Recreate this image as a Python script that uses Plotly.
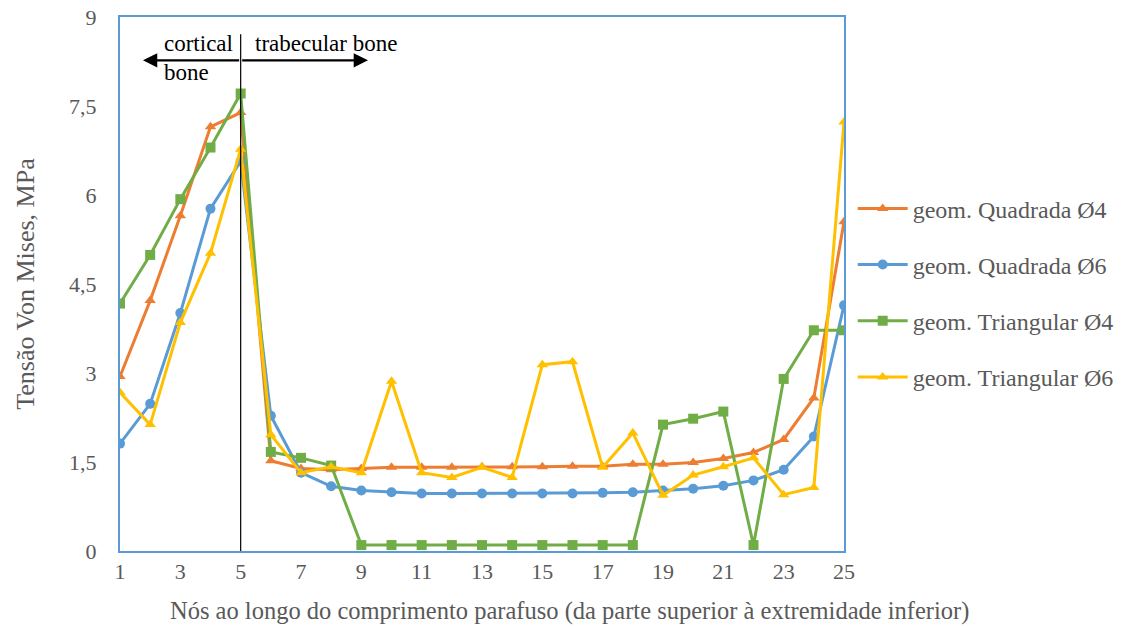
import plotly.graph_objects as go

nodes = list(range(1, 26))

quad4 = [2.94, 4.22, 5.65, 7.15, 7.39, 1.52, 1.39, 1.37, 1.39, 1.41, 1.41, 1.41, 1.42,
         1.42, 1.42, 1.43, 1.43, 1.46, 1.46, 1.49, 1.56, 1.66, 1.88, 2.58, 5.55]
quad6 = [1.81, 2.48, 4.01, 5.77, 6.57, 2.28, 1.32, 1.09, 1.02, 0.99, 0.97, 0.97, 0.97,
         0.97, 0.97, 0.97, 0.98, 0.99, 1.02, 1.05, 1.10, 1.19, 1.37, 1.93, 4.14]
tri4 = [4.17, 4.99, 5.93, 6.80, 7.71, 1.67, 1.57, 1.44, 0.10, 0.10, 0.10, 0.10, 0.10,
        0.10, 0.10, 0.10, 0.10, 0.10, 2.13, 2.23, 2.35, 0.10, 2.90, 3.72, 3.72]
tri6 = [2.67, 2.13, 3.85, 5.02, 6.77, 1.96, 1.32, 1.42, 1.32, 2.86, 1.32, 1.24, 1.41,
        1.24, 3.14, 3.19, 1.41, 1.99, 0.94, 1.28, 1.42, 1.57, 0.95, 1.07, 7.23]

y_ticks = [0, 1.5, 3, 4.5, 6, 7.5, 9]
y_ticktext = ["0", "1,5", "3", "4,5", "6", "7,5", "9"]
x_ticks = list(range(1, 26, 2))

series = [
    ("geom. Quadrada Ø4", quad4, "#ED7D31", "triangle-up"),
    ("geom. Quadrada Ø6", quad6, "#5B9BD5", "circle"),
    ("geom. Triangular Ø4", tri4, "#70AD47", "square"),
    ("geom. Triangular Ø6", tri6, "#FFC000", "triangle-up"),
]

FONT = "Times New Roman, Liberation Serif, DejaVu Serif, serif"
GRAY = "#595959"
X_TITLE = "Nós ao longo do comprimento parafuso (da parte superior à extremidade inferior)"

fig = go.Figure()
for i, (name, vals, color, sym) in enumerate(series):
    fig.add_trace(go.Scatter(
        x=nodes, y=vals, name=name, mode="lines+markers",
        line=dict(color=color, width=3),
        marker=dict(symbol=sym, size=10, color=color),
        legendgroup=f"g{i}",
    ))

# vertical divider at node 5
fig.add_shape(type="line", xref="x", yref="y", x0=5, x1=5, y0=-0.03, y1=8.71,
              line=dict(color="black", width=1.2))

# double arrow
for xe in (1.76, 9.22):
    fig.add_annotation(x=xe, y=8.27, ax=5, ay=8.27, xref="x", yref="y",
                       axref="x", ayref="y", text="", showarrow=True,
                       arrowhead=2, arrowsize=1.3, arrowwidth=2.2, arrowcolor="black")

fig.add_annotation(x=2.39, y=8.56, xref="x", yref="y", text="cortical",
                   showarrow=False, xanchor="left", yanchor="middle",
                   font=dict(family=FONT, size=23, color="black"))
fig.add_annotation(x=2.39, y=8.07, xref="x", yref="y", text="bone",
                   showarrow=False, xanchor="left", yanchor="middle",
                   font=dict(family=FONT, size=23, color="black"))
fig.add_annotation(x=5.41, y=8.56, xref="x", yref="y", text="trabecular bone",
                   showarrow=False, xanchor="left", yanchor="middle",
                   font=dict(family=FONT, size=23, color="black"))

# x-axis title (centred on the whole chart, as in the reference)
fig.add_annotation(x=0.6215, y=-0.113, xref="paper", yref="paper", text=X_TITLE,
                   showarrow=False, xanchor="center", yanchor="middle",
                   font=dict(family=FONT, size=24.5, color=GRAY))

fig.update_layout(
    width=1122, height=627,
    margin=dict(l=120, r=278, t=17, b=75.5, autoexpand=False),
    paper_bgcolor="white", plot_bgcolor="white",
    font=dict(family=FONT, size=21, color=GRAY),
    legend=dict(x=1.012, y=0.683, xanchor="left", yanchor="top",
                font=dict(family=FONT, size=24, color=GRAY),
                tracegroupgap=22, traceorder="grouped", itemwidth=50,
                bgcolor="rgba(0,0,0,0)"),
    xaxis=dict(range=[1, 25], tickvals=x_ticks, showgrid=False, zeroline=False,
               showline=True, mirror=True, linecolor="#5B9BD5", linewidth=2,
               ticks="", tickfont=dict(family=FONT, size=22, color=GRAY),
               automargin=False),
    yaxis=dict(range=[0, 9], tickvals=y_ticks, ticktext=y_ticktext, showgrid=False,
               zeroline=False, showline=True, mirror=True, linecolor="#5B9BD5",
               linewidth=2, ticks="", tickfont=dict(family=FONT, size=22, color=GRAY),
               automargin=False, ticklabelstandoff=17, ticklabeloverflow="allow",
               title=dict(text="Tensão Von Mises, MPa",
                          font=dict(family=FONT, size=26, color=GRAY), standoff=27)),
)

fig.write_html("out.html", config={"displayModeBar": False},
               post_script="document.body.style.margin='0';document.body.style.overflow='hidden';")
